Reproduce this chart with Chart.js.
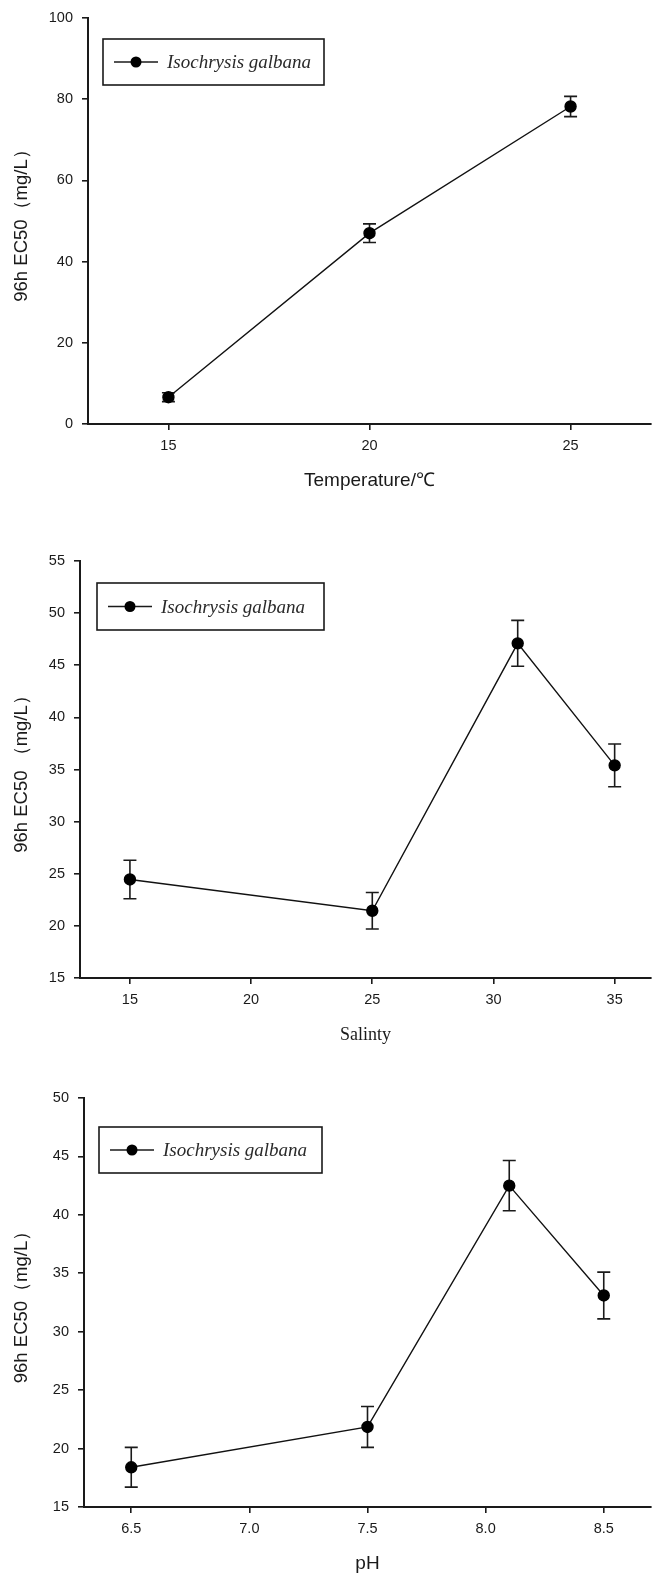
<!DOCTYPE html>
<html>
<head>
<meta charset="utf-8">
<script src="https://cdn.jsdelivr.net/npm/chart.js@4"></script>
<style>
  html, body { margin: 0; padding: 0; background: #fff; }
  body { width: 654px; height: 1575px; position: relative; overflow: hidden; }
  canvas { position: absolute; left: 0; }
</style>
</head>
<body>
<canvas id="tempChart" width="654" height="505" style="top:0px"></canvas>
<canvas id="salChart" width="654" height="545" style="top:505px"></canvas>
<canvas id="phChart" width="654" height="525" style="top:1050px"></canvas>
<script>
// --- data ---
const seriesLabel = 'Isochrysis galbana';

const tempX = [15, 20, 25];
const tempEC50 = [6.6, 47.0, 78.2];
const tempErr = [1.1, 2.3, 2.5];
const tempXTicks = [15, 20, 25];
const tempYTicks = [0, 20, 40, 60, 80, 100];

const salX = [15, 25, 31, 35];
const salEC50 = [24.45, 21.45, 47.1, 35.4];
const salErr = [1.85, 1.75, 2.2, 2.05];
const salXTicks = [15, 20, 25, 30, 35];
const salYTicks = [15, 20, 25, 30, 35, 40, 45, 50, 55];

const phX = [6.5, 7.5, 8.1, 8.5];
const phEC50 = [18.4, 21.85, 42.5, 33.1];
const phErr = [1.7, 1.75, 2.15, 2.0];
const phXTicks = [6.5, 7.0, 7.5, 8.0, 8.5];
const phXTickLabels = ['6.5', '7.0', '7.5', '8.0', '8.5'];
const phYTicks = [15, 20, 25, 30, 35, 40, 45, 50];

const SANS = '"Liberation Sans", Arial, sans-serif';
const SERIF = '"Liberation Serif", "Times New Roman", serif';
const INK = '#1a1a1a';

// error bars, drawn under the line and markers
const errorBars = {
    id: 'errorBars',
    beforeDatasetsDraw(chart) {
        const ctx = chart.ctx;
        const xs = chart.scales.x, ys = chart.scales.y;
        chart.data.datasets.forEach(ds => {
            if (!ds.errors) return;
            ctx.save();
            ctx.strokeStyle = INK;
            ctx.lineWidth = 1.6;
            ds.data.forEach((p, i) => {
                const e = ds.errors[i];
                const px = xs.getPixelForValue(p.x);
                const top = ys.getPixelForValue(p.y + e);
                const bot = ys.getPixelForValue(p.y - e);
                ctx.beginPath();
                ctx.moveTo(px, top); ctx.lineTo(px, bot);
                ctx.moveTo(px - 6.5, top); ctx.lineTo(px + 6.5, top);
                ctx.moveTo(px - 6.5, bot); ctx.lineTo(px + 6.5, bot);
                ctx.stroke();
            });
            ctx.restore();
        });
    }
};

// boxed legend inside the plot
const legendBox = {
    id: 'legendBox',
    afterDraw(chart, args, opts) {
        const ctx = chart.ctx;
        const ds = chart.data.datasets[0];
        const cy = opts.y + opts.h / 2;
        ctx.save();
        ctx.strokeStyle = INK;
        ctx.lineWidth = 1.6;
        ctx.strokeRect(opts.x, opts.y, opts.w, opts.h);
        ctx.lineWidth = 1.4;
        ctx.beginPath();
        ctx.moveTo(opts.x + 11, cy); ctx.lineTo(opts.x + 55, cy);
        ctx.stroke();
        ctx.fillStyle = '#000';
        ctx.beginPath();
        ctx.arc(opts.x + 33, cy, 5.5, 0, Math.PI * 2);
        ctx.fill();
        ctx.fillStyle = '#2a2a2a';
        ctx.font = 'italic 19px ' + SERIF;
        ctx.textBaseline = 'middle';
        ctx.fillText(ds.label, opts.x + 64, cy + 1);
        ctx.restore();
    }
};

function makeChart(id, c) {
    const pts = c.xs.map((x, i) => ({ x: x, y: c.ys[i] }));
    return new Chart(document.getElementById(id), {
        type: 'line',
        data: {
            datasets: [{
                label: seriesLabel,
                data: pts,
                errors: c.errs,
                borderColor: '#111',
                borderWidth: 1.4,
                pointRadius: 5.5,
                pointBackgroundColor: '#000',
                pointBorderColor: '#000',
                tension: 0
            }]
        },
        options: {
            responsive: false,
            animation: false,
            devicePixelRatio: 1,
            layout: { autoPadding: false, padding: { top: c.top, right: 3, bottom: 0, left: 0 } },
            plugins: {
                legend: { display: false },
                tooltip: { enabled: false },
                legendBox: c.legend
            },
            scales: {
                x: {
                    type: 'linear',
                    min: c.xMin, max: c.xMax,
                    afterFit: s => { s.height = c.xHeight; },
                    afterBuildTicks: s => { s.ticks = c.xTicks.map(v => ({ value: v })); },
                    grid: { drawOnChartArea: false, drawTicks: true, tickLength: 6, color: INK, lineWidth: 1.6 },
                    border: { display: true, color: INK, width: 2 },
                    ticks: {
                        color: '#1a1a1a', padding: 7,
                        font: { family: SANS, size: 14.5 },
                        callback: c.xLabel || (v => v)
                    },
                    title: {
                        display: true, text: c.xTitle, color: '#1a1a1a',
                        font: c.xTitleFont,
                        padding: { top: 0, bottom: c.xTitlePad }
                    }
                },
                y: {
                    min: c.yTicks[0], max: c.yTicks[c.yTicks.length - 1],
                    afterFit: s => { s.width = c.left; },
                    afterBuildTicks: s => { s.ticks = c.yTicks.map(v => ({ value: v })); },
                    grid: { drawOnChartArea: false, drawTicks: true, tickLength: 6, color: INK, lineWidth: 1.6 },
                    border: { display: true, color: INK, width: 2 },
                    ticks: { color: '#1a1a1a', padding: 9, font: { family: SANS, size: 14.5 } },
                    title: {
                        display: true, text: c.yTitle, color: '#1a1a1a',
                        font: { family: SANS, size: 18.5 },
                        padding: { top: 11, bottom: 0 }
                    }
                }
            }
        },
        plugins: [errorBars, legendBox]
    });
}

makeChart('tempChart', {
    xs: tempX, ys: tempEC50, errs: tempErr,
    xTicks: tempXTicks, yTicks: tempYTicks,
    xMin: 13, xMax: 27,
    top: 18, left: 88, xHeight: 81,
    xTitle: 'Temperature/℃', xTitleFont: { family: SANS, size: 19 }, xTitlePad: 13,
    yTitle: '96h EC50（mg/L）',
    legend: { x: 103, y: 39, w: 221, h: 46 }
});

makeChart('salChart', {
    xs: salX, ys: salEC50, errs: salErr,
    xTicks: salXTicks, yTicks: salYTicks,
    xMin: 12.94, xMax: 36.5,
    top: 56, left: 80, xHeight: 72,
    xTitle: 'Salinty', xTitleFont: { family: SERIF, size: 18 }, xTitlePad: 4,
    yTitle: '96h EC50 （mg/L）',
    legend: { x: 97, y: 78, w: 227, h: 47 }
});

makeChart('phChart', {
    xs: phX, ys: phEC50, errs: phErr,
    xTicks: phXTicks, yTicks: phYTicks,
    xLabel: (v, i) => phXTickLabels[i],
    xMin: 6.3, xMax: 8.7,
    top: 48, left: 84, xHeight: 68,
    xTitle: 'pH', xTitleFont: { family: SANS, size: 19 }, xTitlePad: 0,
    yTitle: '96h EC50（mg/L）',
    legend: { x: 99, y: 77, w: 223, h: 46 }
});
</script>
</body>
</html>
